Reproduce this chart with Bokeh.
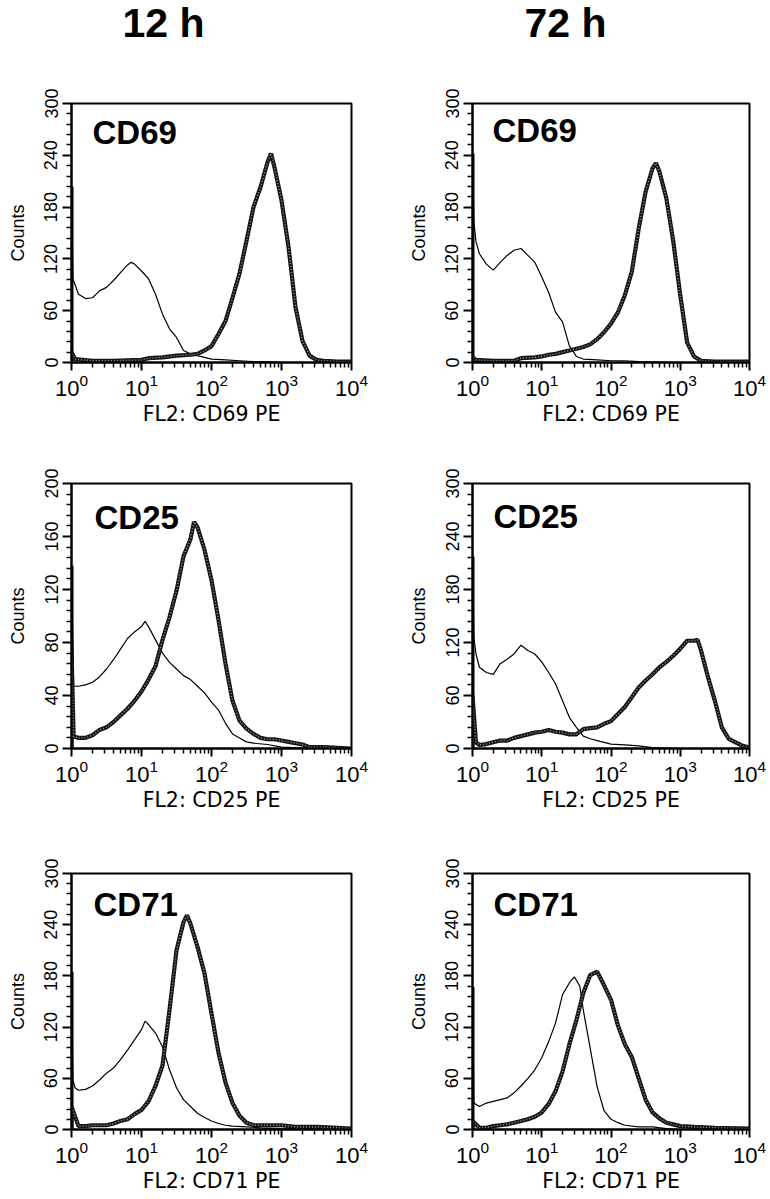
from bokeh.plotting import figure
from bokeh.models import Range1d, FixedTicker, Label
from bokeh.layouts import gridplot, column
from bokeh.embed import file_html
from bokeh.resources import INLINE

# ---------------- text / ticks ----------------
COLUMN_TITLES = ["12 h", "72 h"]
MARKERS = ["CD69", "CD25", "CD71"]
X_LABELS = ["FL2: CD69 PE", "FL2: CD25 PE", "FL2: CD71 PE"]
Y_LABEL = "Counts"
X_TICKS = [1, 10, 100, 1000, 10000]
Y_TICKS_300 = [0, 60, 120, 180, 240, 300]
Y_TICKS_200 = [0, 40, 80, 120, 160, 200]

# ---------------- data (log10 fluorescence, counts) ----------------
# CD69, 12 h
CD69_12H_CTRL_LX = [0.0, 0.0, 0.02, 0.1, 0.2, 0.3, 0.4, 0.5, 0.6, 0.7, 0.8, 0.85, 0.9, 1.0, 1.1, 1.2, 1.3, 1.4, 1.5, 1.6, 1.7, 1.8, 1.9, 2.0, 2.2, 2.4, 2.6, 2.8, 3.0, 4.0]
CD69_12H_CTRL_Y = [0, 204, 97, 79, 74, 75, 83, 87, 95, 104, 113, 116, 114, 106, 97, 79, 56, 39, 29, 14, 10, 8, 6, 4, 3, 2, 1, 1, 0, 0]
CD69_12H_STAIN_LX = [0.0, 0.0, 0.05, 0.3, 0.6, 1.0, 1.1, 1.3, 1.5, 1.7, 1.8, 1.9, 2.0, 2.1, 2.2, 2.3, 2.4, 2.5, 2.6, 2.7, 2.8, 2.85, 2.9, 3.0, 3.1, 3.2, 3.3, 3.4, 3.5, 3.6, 3.8, 4.0]
CD69_12H_STAIN_Y = [0, 12, 4, 2, 2, 3, 5, 6, 8, 9, 10, 14, 19, 33, 48, 75, 103, 141, 180, 203, 232, 242, 226, 188, 134, 64, 25, 8, 3, 2, 1, 1]

# CD69, 72 h
CD69_72H_CTRL_LX = [0.0, 0.0, 0.02, 0.05, 0.1, 0.2, 0.3, 0.4, 0.5, 0.6, 0.7, 0.8, 0.9, 1.0, 1.1, 1.2, 1.3, 1.4, 1.5, 1.6, 1.8, 2.0, 2.2, 2.4, 3.0, 4.0]
CD69_72H_CTRL_Y = [0, 242, 163, 140, 126, 114, 107, 116, 124, 130, 132, 124, 116, 99, 81, 58, 47, 19, 7, 4, 3, 2, 2, 1, 0, 0]
CD69_72H_STAIN_LX = [0.0, 0.0, 0.05, 0.3, 0.6, 0.7, 0.9, 1.0, 1.1, 1.2, 1.3, 1.4, 1.5, 1.6, 1.7, 1.8, 1.9, 2.0, 2.1, 2.2, 2.3, 2.4, 2.5, 2.6, 2.65, 2.7, 2.8, 2.9, 3.0, 3.1, 3.2, 3.3, 3.5, 4.0]
CD69_72H_STAIN_Y = [0, 6, 3, 2, 2, 5, 6, 7, 9, 10, 12, 14, 16, 18, 21, 27, 35, 45, 58, 78, 105, 155, 198, 225, 231, 221, 190, 140, 78, 23, 7, 2, 1, 1]

# CD25, 12 h
CD25_12H_CTRL_LX = [0.0, 0.0, 0.03, 0.1, 0.2, 0.3, 0.4, 0.5, 0.6, 0.7, 0.8, 0.9, 1.0, 1.05, 1.1, 1.2, 1.3, 1.4, 1.5, 1.6, 1.7, 1.8, 1.9, 2.0, 2.1, 2.2, 2.3, 2.4, 2.5, 2.6, 2.8, 3.0, 3.5, 4.0]
CD25_12H_CTRL_Y = [0, 138, 47, 47, 48, 50, 54, 60, 67, 75, 83, 88, 92, 96, 92, 82, 72, 65, 60, 55, 52, 47, 42, 35, 29, 19, 11, 8, 5, 4, 3, 1, 0, 0]
CD25_12H_STAIN_LX = [0.0, 0.0, 0.03, 0.1, 0.2, 0.3, 0.4, 0.5, 0.6, 0.7, 0.8, 0.9, 1.0, 1.1, 1.2, 1.3, 1.4, 1.5, 1.6, 1.7, 1.75, 1.8, 1.9, 2.0, 2.1, 2.2, 2.3, 2.4, 2.5, 2.6, 2.7, 2.8, 2.9, 3.0, 3.1, 3.2, 3.3, 3.4, 3.6, 4.0]
CD25_12H_STAIN_Y = [0, 75, 9, 8, 8, 10, 14, 16, 20, 25, 30, 36, 43, 52, 62, 82, 99, 119, 145, 158, 171, 167, 150, 127, 97, 64, 36, 21, 15, 11, 8, 7, 7, 6, 5, 4, 3, 1, 1, 0]

# CD25, 72 h
CD25_72H_CTRL_LX = [0.0, 0.0, 0.02, 0.05, 0.1, 0.2, 0.3, 0.4, 0.5, 0.6, 0.7, 0.8, 0.9, 1.0, 1.1, 1.2, 1.3, 1.4, 1.5, 1.6, 1.7, 1.8, 1.9, 2.0, 2.2, 2.4, 2.6, 3.0, 4.0]
CD25_72H_CTRL_Y = [0, 217, 126, 107, 92, 86, 84, 96, 101, 107, 117, 111, 107, 98, 86, 73, 54, 35, 24, 14, 11, 9, 7, 5, 4, 3, 1, 0, 0]
CD25_72H_STAIN_LX = [0.0, 0.0, 0.05, 0.1, 0.2, 0.3, 0.4, 0.5, 0.6, 0.7, 0.8, 0.9, 1.0, 1.1, 1.2, 1.3, 1.4, 1.5, 1.6, 1.7, 1.8, 1.9, 2.0, 2.1, 2.2, 2.3, 2.4, 2.5, 2.6, 2.7, 2.8, 2.9, 3.0, 3.1, 3.2, 3.25, 3.3, 3.4, 3.5, 3.6, 3.7, 3.8, 3.9, 4.0]
CD25_72H_STAIN_Y = [0, 60, 7, 4, 5, 7, 9, 9, 12, 14, 16, 18, 19, 21, 19, 18, 16, 16, 22, 23, 24, 28, 31, 39, 47, 58, 69, 77, 84, 92, 98, 105, 113, 122, 122, 123, 111, 81, 54, 24, 11, 7, 3, 1]

# CD71, 12 h
CD71_12H_CTRL_LX = [0.0, 0.0, 0.02, 0.05, 0.1, 0.2, 0.3, 0.4, 0.5, 0.6, 0.7, 0.8, 0.9, 1.0, 1.05, 1.1, 1.2, 1.3, 1.4, 1.5, 1.6, 1.7, 1.8, 1.9, 2.0, 2.1, 2.2, 2.3, 2.5, 2.7, 3.0, 4.0]
CD71_12H_CTRL_Y = [0, 185, 58, 49, 46, 47, 51, 58, 66, 72, 82, 93, 105, 117, 127, 123, 113, 97, 70, 49, 35, 27, 19, 14, 10, 7, 5, 4, 3, 2, 1, 0]
CD71_12H_STAIN_LX = [0.0, 0.0, 0.1, 0.2, 0.3, 0.5, 0.6, 0.7, 0.8, 0.9, 1.0, 1.1, 1.2, 1.3, 1.4, 1.5, 1.6, 1.65, 1.7, 1.8, 1.9, 2.0, 2.1, 2.2, 2.3, 2.4, 2.5, 2.6, 2.8, 3.0, 3.2, 3.5, 3.8, 4.0]
CD71_12H_STAIN_Y = [0, 27, 4, 4, 5, 5, 7, 10, 12, 18, 23, 33, 51, 75, 140, 210, 243, 251, 241, 214, 183, 136, 90, 55, 31, 16, 8, 5, 5, 5, 3, 3, 2, 1]

# CD71, 72 h
CD71_72H_CTRL_LX = [0.0, 0.0, 0.02, 0.1, 0.2, 0.3, 0.4, 0.5, 0.6, 0.7, 0.8, 0.9, 1.0, 1.1, 1.2, 1.3, 1.4, 1.47, 1.55, 1.6, 1.7, 1.8, 1.9, 2.0, 2.1, 2.2, 2.4, 2.6, 2.8, 3.0, 4.0]
CD71_72H_CTRL_Y = [0, 167, 31, 27, 31, 33, 35, 37, 43, 51, 60, 70, 84, 103, 125, 158, 172, 179, 168, 140, 95, 50, 22, 12, 8, 5, 3, 3, 1, 0, 0]
CD71_72H_STAIN_LX = [0.0, 0.0, 0.1, 0.2, 0.3, 0.4, 0.5, 0.6, 0.7, 0.8, 0.9, 1.0, 1.1, 1.2, 1.3, 1.4, 1.5, 1.6, 1.7, 1.8, 1.9, 2.0, 2.1, 2.2, 2.3, 2.4, 2.5, 2.6, 2.7, 2.8, 2.9, 3.0, 3.2, 3.5, 4.0]
CD71_72H_STAIN_Y = [0, 10, 2, 2, 4, 5, 6, 8, 10, 12, 15, 20, 30, 45, 68, 100, 128, 160, 181, 185, 169, 152, 122, 100, 85, 60, 35, 20, 13, 8, 6, 4, 3, 2, 1]

PANELS = [
    [(CD69_12H_CTRL_LX, CD69_12H_CTRL_Y, CD69_12H_STAIN_LX, CD69_12H_STAIN_Y, Y_TICKS_300),
     (CD69_72H_CTRL_LX, CD69_72H_CTRL_Y, CD69_72H_STAIN_LX, CD69_72H_STAIN_Y, Y_TICKS_300)],
    [(CD25_12H_CTRL_LX, CD25_12H_CTRL_Y, CD25_12H_STAIN_LX, CD25_12H_STAIN_Y, Y_TICKS_200),
     (CD25_72H_CTRL_LX, CD25_72H_CTRL_Y, CD25_72H_STAIN_LX, CD25_72H_STAIN_Y, Y_TICKS_300)],
    [(CD71_12H_CTRL_LX, CD71_12H_CTRL_Y, CD71_12H_STAIN_LX, CD71_12H_STAIN_Y, Y_TICKS_300),
     (CD71_72H_CTRL_LX, CD71_72H_CTRL_Y, CD71_72H_STAIN_LX, CD71_72H_STAIN_Y, Y_TICKS_300)],
]

# ---------------- layout geometry (pixels) ----------------
COL_W = [393, 375]
COL_LEFT = [71, 79]
COL_RIGHT = [42, 19]
HEADER_H = 50
HEADER_X = [122, 524]
HEADER_BASELINE = 28
ROW_TOP = [53, 38, 58]
ROW_FRAME_H = [259, 265, 257]
ROW_BOTTOM = [83, 67, 65]
MARK_DX = [[21, 20], [23, 21], [22, 21]]
MARK_DY = [[29, 27], [34, 33], [32, 32]]

FONT = "Liberation Sans"


def make_header():
    h = figure(width=sum(COL_W), height=HEADER_H, x_range=Range1d(0, 1), y_range=Range1d(0, 1),
               x_axis_location=None, y_axis_location=None,
               min_border_left=0, min_border_right=0, min_border_top=0, min_border_bottom=0,
               output_backend="svg", toolbar_location=None)
    h.outline_line_color = None
    h.xgrid.visible = False
    h.ygrid.visible = False
    h.background_fill_color = "white"
    h.border_fill_color = "white"
    for c in range(2):
        h.add_layout(Label(x=HEADER_X[c], y=HEADER_BASELINE, x_units="screen", y_units="screen",
                           text=COLUMN_TITLES[c], text_font=FONT, text_font_style="bold",
                           text_font_size="41px", text_color="black",
                           text_baseline="alphabetic"))
    return h


def make_panel(r, c):
    ctrl_lx, ctrl_y, st_lx, st_y, yticks = PANELS[r][c]
    H = ROW_TOP[r] + ROW_FRAME_H[r] + ROW_BOTTOM[r]
    p = figure(width=COL_W[c], height=H, x_axis_type="log",
               x_range=Range1d(1, 10000), y_range=Range1d(0, yticks[-1]),
               min_border_left=COL_LEFT[c], min_border_right=COL_RIGHT[c],
               min_border_top=ROW_TOP[r], min_border_bottom=ROW_BOTTOM[r],
               output_backend="svg", toolbar_location=None)
    p.background_fill_color = "white"
    p.border_fill_color = "white"
    p.outline_line_color = "black"
    p.outline_line_width = 2
    p.xgrid.visible = False
    p.ygrid.visible = False

    step = yticks[1] - yticks[0]
    yminor = [t + step * k / 5 for t in yticks[:-1] for k in range(1, 5)]
    xminor = [m * d for d in X_TICKS[:-1] for m in range(2, 10)]
    p.xaxis.ticker = FixedTicker(ticks=X_TICKS, minor_ticks=xminor)
    p.yaxis.ticker = FixedTicker(ticks=yticks, minor_ticks=yminor)

    for ax in (p.xaxis, p.yaxis):
        ax.axis_line_width = 2
        ax.axis_line_color = "black"
        ax.major_tick_line_width = 2
        ax.minor_tick_line_width = 1.5
        ax.major_tick_in = 0
        ax.minor_tick_in = 0
        ax.major_label_text_font = FONT
        ax.major_label_text_color = "black"
        ax.axis_label_text_font = FONT
        ax.axis_label_text_font_style = "normal"
        ax.axis_label_text_color = "black"

    p.xaxis.major_tick_out = 8
    p.xaxis.minor_tick_out = 5
    p.xaxis.major_label_text_font_size = "22px"
    p.xaxis.major_label_standoff = 3
    p.xaxis.axis_label = X_LABELS[r]
    p.xaxis.axis_label_text_font = "DejaVu Sans"
    p.xaxis.axis_label_text_font_size = "20.5px"
    p.xaxis.axis_label_standoff = 3

    p.yaxis.major_tick_out = 9
    p.yaxis.minor_tick_out = 5
    p.yaxis.major_label_orientation = "vertical"
    p.yaxis.major_label_text_font_size = "18px"
    p.yaxis.major_label_standoff = 5
    p.yaxis.axis_label = Y_LABEL
    p.yaxis.axis_label_text_font_size = "18px"
    p.yaxis.axis_label_standoff = 14

    cx = [10 ** v for v in ctrl_lx]
    sx = [10 ** v for v in st_lx]
    # first-channel pile-up at the left edge
    p.segment(x0=[cx[1]], y0=[0], x1=[cx[1]], y1=[ctrl_y[1]], line_width=4, line_color="black")
    p.line(cx, ctrl_y, line_width=1.2, line_color="black")
    p.line(sx, st_y, line_width=4.2, line_color="#151515")
    p.line(sx, st_y, line_width=1.4, line_color="#9a9a9a", line_dash="1 2")

    p.add_layout(Label(x=MARK_DX[r][c], y=ROW_FRAME_H[r] - MARK_DY[r][c],
                       x_units="screen", y_units="screen", text=MARKERS[r],
                       text_font=FONT, text_font_style="bold", text_font_size="33px",
                       text_color="black", text_baseline="alphabetic"))
    return p


grid = gridplot([[make_panel(r, c) for c in range(2)] for r in range(3)], toolbar_location=None)
layout = column(make_header(), grid)

open("out.html", "w").write(file_html(layout, INLINE))
